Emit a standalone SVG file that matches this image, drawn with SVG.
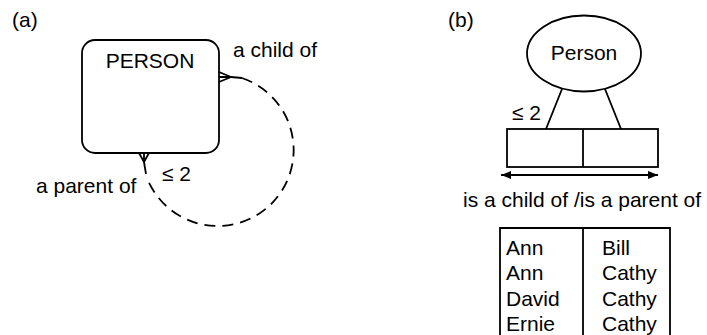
<svg xmlns="http://www.w3.org/2000/svg" width="707" height="335" viewBox="0 0 707 335">
  <defs>
    <style>
      text { font-family: "Liberation Sans", Arial, sans-serif; font-size: 21px; fill: #000; }
      .ln { fill: none; stroke: #000; stroke-width: 1.8; }
      .dash { fill: none; stroke: #000; stroke-width: 1.8; stroke-dasharray: 11 7; }
    </style>
    <marker id="arrowhead" viewBox="0 0 10 8" refX="10" refY="4" markerWidth="10" markerHeight="8" markerUnits="userSpaceOnUse" orient="auto-start-reverse">
      <path d="M0,0 L10,4 L0,8 Z" fill="#000"/>
    </marker>
  </defs>
  <rect width="707" height="335" fill="#fff"/>

  <!-- Panel (a): ER notation -->
  <text x="12" y="27">(a)</text>
  <g id="person-entity">
    <rect class="ln" x="82" y="40" width="137" height="113" rx="13" ry="13"/>
    <text x="150" y="68" text-anchor="middle">PERSON</text>
  </g>
  <g id="connectors-a">
    <!-- crow's foot on the right edge -->
    <path class="ln" d="M219,72 L231,77 M219,77 L231,77 M219,82 L231,77 M231,77 L242,78"/>
    <!-- crow's foot on the bottom edge -->
    <path class="ln" d="M139,153 L144,162 M144,153 L144,162 M149,153 L144,162 M144,162 L146,174"/>
    <!-- recursive relationship loop -->
    <path class="dash" d="M242,78 A76,76 0 1 1 147,178"/>
  </g>
  <text x="233" y="57">a child of</text>
  <text x="36" y="193">a parent of</text>
  <text x="162" y="181">≤ 2</text>

  <!-- Panel (b): ORM notation -->
  <text x="448" y="27">(b)</text>
  <g id="person-object">
    <ellipse class="ln" cx="584" cy="53.5" rx="57" ry="38"/>
    <text x="584" y="60" text-anchor="middle">Person</text>
  </g>
  <g id="fact-type">
    <rect class="ln" x="507" y="129" width="151" height="38"/>
    <line class="ln" x1="583" y1="129" x2="583" y2="167"/>
  </g>
  <g id="connectors-b">
    <line class="ln" x1="562" y1="89" x2="546" y2="129"/>
    <line class="ln" x1="605" y1="89" x2="621" y2="129"/>
    <line class="ln" x1="501" y1="175" x2="658" y2="175" marker-start="url(#arrowhead)" marker-end="url(#arrowhead)"/>
  </g>
  <text x="512" y="120">≤ 2</text>
  <text x="463" y="207">is a child of /is a parent of</text>

  <g id="population-table">
    <path class="ln" d="M500,335 L500,228 L670,228 L670,335 M583,228 L583,335"/>
    <text x="506" y="255">Ann</text>
    <text x="506" y="280">Ann</text>
    <text x="506" y="306">David</text>
    <text x="506" y="331">Ernie</text>
    <text x="602" y="255">Bill</text>
    <text x="602" y="280">Cathy</text>
    <text x="602" y="306">Cathy</text>
    <text x="602" y="331">Cathy</text>
  </g>
</svg>
